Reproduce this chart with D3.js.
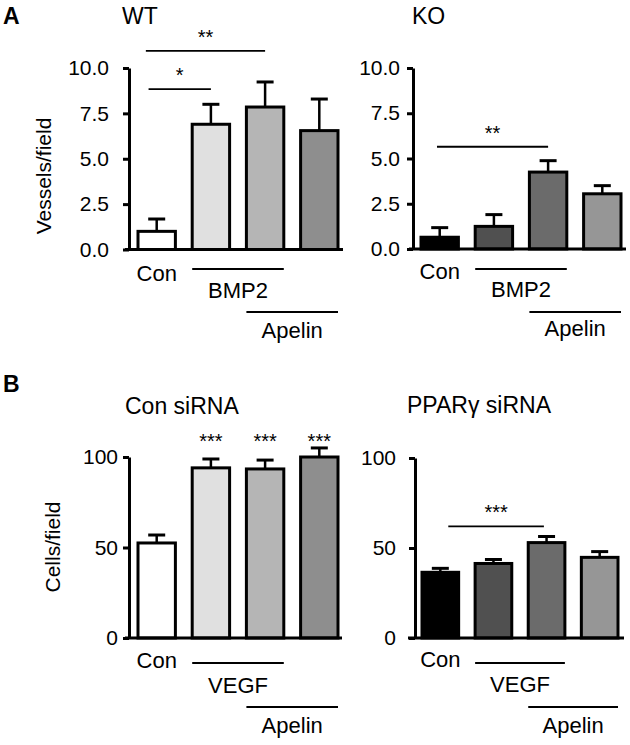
<!DOCTYPE html>
<html>
<head>
<meta charset="utf-8">
<script src="https://cdn.jsdelivr.net/npm/d3@7"></script>
<style>
  body { margin: 0; background: #fff; }
  text { font-family: "Liberation Sans", Arial, Helvetica, sans-serif; fill: #000; }
</style>
</head>
<body>
<script>
// values (mean + upper error)
var wtMeans = [1.0, 6.9, 7.85, 6.55];
var wtErr = [0.68, 1.1, 1.38, 1.74];
var koMeans = [0.65, 1.25, 4.25, 3.05];
var koErr = [0.53, 0.65, 0.63, 0.45];
var conSiMeans = [52.5, 94, 93.4, 100];
var conSiErr = [4.4, 4.9, 4.9, 5];
var pparSiMeans = [36.5, 41.4, 53, 44.8];
var pparSiErr = [2.2, 2.2, 3.4, 3.2];

var ticksA = [0, 2.5, 5, 7.5, 10];
var ticksB = [0, 50, 100];

var lightFills = ['#ffffff', '#e0e0e0', '#b5b5b5', '#8e8e8e'];
var darkFills = ['#000000', '#505050', '#6b6b6b', '#969696'];

var panels = [
  { title: 'WT', tx: 122, ty: 24, means: wtMeans, err: wtErr, fills: lightFills,
    ax: 129, base0: 125, base1: 343, bars: [138, 338], y0: 249.5, y1: 68, max: 10,
    ticks: ticksA, fmt: d3.format('.1f'), pad: 14,
    treat: 'BMP2', conY: 31.5, lineY: 19.5, treatY: 48.5, apLineY: 62.5, apY: 88,
    sig: [{ a: -0.15, b: 1, v: 8.84, s: '*' }, { a: -0.2, b: 2, v: 10.94, s: '**' }], stars: [] },
  { title: 'KO', tx: 412, ty: 24, means: koMeans, err: koErr, fills: darkFills,
    ax: 413, base0: 409, base1: 626, bars: [421, 621], y0: 249, y1: 68, max: 10,
    ticks: ticksA, fmt: d3.format('.1f'), pad: 7,
    treat: 'BMP2', conY: 30, lineY: 20, treatY: 48, apLineY: 63, apY: 87,
    sig: [{ a: -0.05, b: 2, v: 5.65, s: '**' }], stars: [] },
  { title: 'Con siRNA', tx: 125, ty: 414, means: conSiMeans, err: conSiErr, fills: lightFills,
    ax: 129, base0: 125, base1: 342, bars: [138, 338], y0: 638, y1: 457, max: 100,
    ticks: ticksB, fmt: d3.format('d'), pad: 5,
    treat: 'VEGF', conY: 30, lineY: 25, treatY: 55, apLineY: 69, apY: 95,
    sig: [], stars: [1, 2, 3], starV: 110.5 },
  { title: 'PPARγ siRNA', tx: 407, ty: 413, means: pparSiMeans, err: pparSiErr, fills: darkFills,
    ax: 415, base0: 408, base1: 624, bars: [422, 618], y0: 638, y1: 458, max: 100,
    ticks: ticksB, fmt: d3.format('d'), pad: 13,
    treat: 'VEGF', conY: 29, lineY: 25, treatY: 54, apLineY: 69, apY: 95,
    sig: [{ a: 0.15, b: 1.95, v: 62, s: '***' }], stars: [] }
];

var svg = d3.select('body').append('svg').attr('width', 630).attr('height', 745);

svg.append('text').attr('x', 3).attr('y', 24).attr('font-size', 23).attr('font-weight', 'bold').text('A');
svg.append('text').attr('x', 3).attr('y', 392).attr('font-size', 23).attr('font-weight', 'bold').text('B');

svg.append('text')
  .attr('transform', 'translate(51,176) rotate(-90)')
  .attr('text-anchor', 'middle').attr('font-size', 21).text('Vessels/field');
svg.append('text')
  .attr('transform', 'translate(60,547) rotate(-90)')
  .attr('text-anchor', 'middle').attr('font-size', 21).text('Cells/field');

panels.forEach(function(p) {
  var g = svg.append('g');
  var n = p.means.length;

  var x = d3.scaleBand().domain(d3.range(n)).range(p.bars).paddingInner(0.31).paddingOuter(0);
  var y = d3.scaleLinear().domain([0, p.max]).range([p.y0, p.y1]);
  var cx = function(i) { return x(i) + x.bandwidth() / 2; };
  var at = function(f) { return cx(0) + f * x.step(); };

  g.append('text').attr('x', p.tx).attr('y', p.ty).attr('font-size', 23).text(p.title);

  // y axis
  var yAxis = d3.axisLeft(y).tickValues(p.ticks).tickFormat(p.fmt)
    .tickSize(6).tickSizeOuter(0).tickPadding(p.pad);
  var ag = g.append('g').attr('transform', 'translate(' + p.ax + ',0)').call(yAxis);
  ag.select('.domain').attr('stroke-width', 3);
  ag.selectAll('.tick line').attr('stroke-width', 3);
  ag.selectAll('.tick text').attr('font-size', 21).attr('font-family', '"Liberation Sans", Arial, sans-serif');

  // bars
  g.selectAll('rect.bar').data(p.means).join('rect')
    .attr('class', 'bar')
    .attr('x', function(d, i) { return x(i); })
    .attr('y', function(d) { return y(d); })
    .attr('width', x.bandwidth())
    .attr('height', function(d) { return y(0) - y(d); })
    .attr('fill', function(d, i) { return p.fills[i]; })
    .attr('stroke', '#000').attr('stroke-width', 3);

  // error bars (upper only)
  p.means.forEach(function(m, i) {
    g.append('line').attr('x1', cx(i)).attr('x2', cx(i))
      .attr('y1', y(m)).attr('y2', y(m + p.err[i]))
      .attr('stroke', '#000').attr('stroke-width', 2.5);
    g.append('line').attr('x1', cx(i) - 8.5).attr('x2', cx(i) + 8.5)
      .attr('y1', y(m + p.err[i])).attr('y2', y(m + p.err[i]))
      .attr('stroke', '#000').attr('stroke-width', 3);
  });

  // baseline
  g.append('line').attr('x1', p.base0).attr('x2', p.base1)
    .attr('y1', y(0)).attr('y2', y(0)).attr('stroke', '#000').attr('stroke-width', 3);

  // significance
  p.sig.forEach(function(s) {
    g.append('line').attr('x1', at(s.a)).attr('x2', at(s.b))
      .attr('y1', y(s.v)).attr('y2', y(s.v)).attr('stroke', '#000').attr('stroke-width', 1.8);
    g.append('text').attr('x', (at(s.a) + at(s.b)) / 2).attr('y', y(s.v) - 7)
      .attr('text-anchor', 'middle').attr('font-size', 20).text(s.s);
  });
  p.stars.forEach(function(i) {
    g.append('text').attr('x', cx(i)).attr('y', y(p.starV) + 10)
      .attr('text-anchor', 'middle').attr('font-size', 20).text('***');
  });

  // group labels
  var b = y(0);
  g.append('text').attr('x', cx(0)).attr('y', b + p.conY)
    .attr('text-anchor', 'middle').attr('font-size', 22).text('Con');
  g.append('line').attr('x1', x(1)).attr('x2', x(2) + x.bandwidth())
    .attr('y1', b + p.lineY).attr('y2', b + p.lineY).attr('stroke', '#000').attr('stroke-width', 1.8);
  g.append('text').attr('x', (cx(1) + cx(2)) / 2).attr('y', b + p.treatY)
    .attr('text-anchor', 'middle').attr('font-size', 22).text(p.treat);
  g.append('line').attr('x1', x(2)).attr('x2', x(3) + x.bandwidth())
    .attr('y1', b + p.apLineY).attr('y2', b + p.apLineY).attr('stroke', '#000').attr('stroke-width', 1.8);
  g.append('text').attr('x', (cx(2) + cx(3)) / 2).attr('y', b + p.apY)
    .attr('text-anchor', 'middle').attr('font-size', 22).text('Apelin');
});
</script>
</body>
</html>
